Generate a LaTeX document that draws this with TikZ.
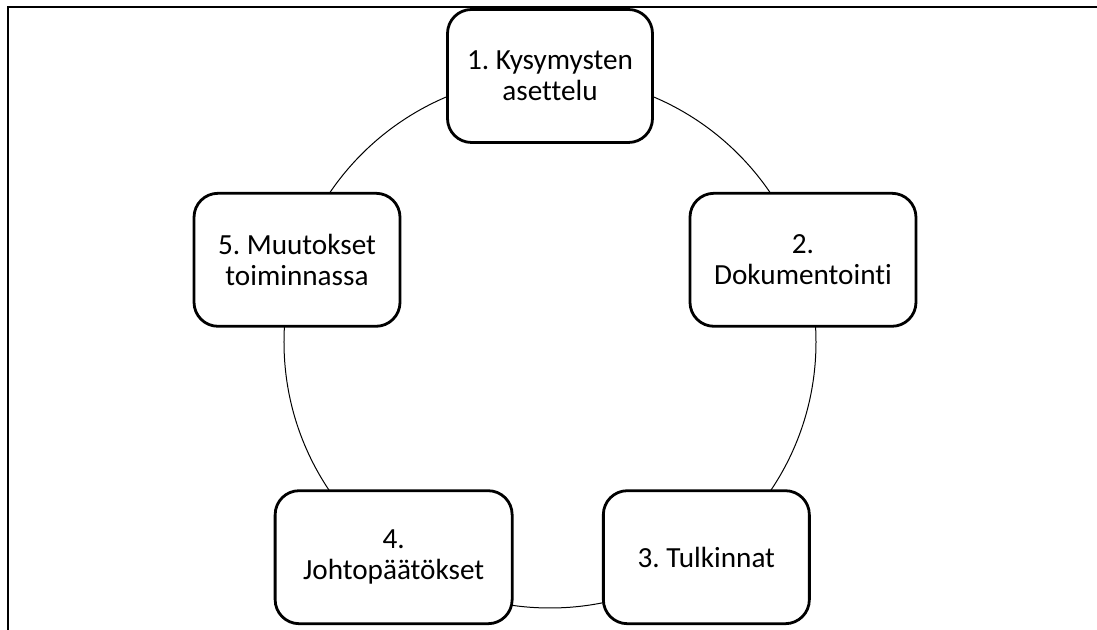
\documentclass[tikz,border=0pt]{standalone}
\usepackage{fontspec}
\setmainfont{Carlito}[Ligatures={NoCommon}]
\usetikzlibrary{backgrounds}
\frenchspacing

\begin{document}
\begin{tikzpicture}[
stepbox/.style={rectangle, rounded corners=12pt, draw=black, fill=white, line width=1.4pt, minimum height=66.5pt, align=center, inner sep=2pt, font=\fontsize{14.6}{15.6}\selectfont},
ringline/.style={draw=black, line width=0.5pt},
frameline/.style={draw=black, line width=0.8pt},
]
\useasboundingbox (-275pt,-144pt) rectangle (273.5pt,171pt);
%Frame
\draw[frameline] (-271pt,-144pt) -- (-271pt,167.5pt) -- (273.5pt,167.5pt);

%Nodes
\coordinate (centre) at (0,0);
\node[stepbox, minimum width=102.5pt] (kysymys)       at (90:133pt)   {1. Kysymysten\\asettelu};
\node[stepbox, minimum width=113pt]   (dokumentointi) at (18:133pt)   {2.\\Dokumentointi};
\node[stepbox, minimum width=103pt]   (tulkinnat)     at (-54:133pt)  {3. Tulkinnat};
\node[stepbox, minimum width=118.5pt] (johto)         at (-126:133pt) {4.\\Johtopäätökset};
\node[stepbox, minimum width=103pt]   (muutokset)     at (162:133pt)  {5. Muutokset\\toiminnassa};

%Lines
\begin{scope}[on background layer]
\draw[ringline] (centre) circle (133pt);
\end{scope}

\end{tikzpicture}
\end{document}
